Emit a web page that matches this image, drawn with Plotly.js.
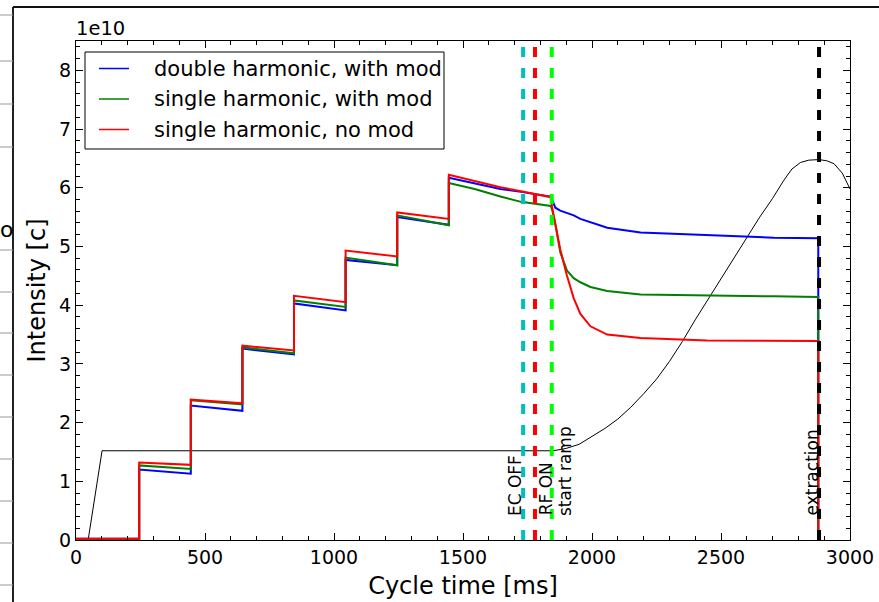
<!DOCTYPE html>
<html>
<head>
<meta charset="utf-8">
<script src="https://cdn.plot.ly/plotly-3.0.1.min.js"></script>
<style>html,body{margin:0;padding:0;background:#fff;}#chart{width:879px;height:602px;}</style>
</head>
<body>
<div id="chart"></div>
<script>
// ---- data (intensity in units of 1e10) ----
const seriesNames = ["double harmonic, with mod", "single harmonic, with mod", "single harmonic, no mod"];
const seriesColors = ["#0000ff", "#008000", "#ff0000"];
const cycleTime = [0, 245, 245, 445, 445, 645, 645, 845, 845, 1045, 1045, 1245, 1245, 1445, 1445,
  1545, 1645, 1725, 1840, 1846, 1852, 1858, 1877, 1903, 1929, 1955, 1994, 2059, 2188, 2446, 2705, 2877, 2877];
const blueHarm2Mod = [0.02, 0.02, 1.20, 1.13, 2.29, 2.20, 3.26, 3.16, 4.03, 3.91, 4.77, 4.68, 5.50, 5.37, 6.17,
  6.08, 5.98, 5.93, 5.85, 5.79, 5.73, 5.66, 5.61, 5.57, 5.53, 5.47, 5.41, 5.32, 5.24, 5.19, 5.15, 5.14, 0];
const greenHarm1Mod = [0.01, 0.01, 1.27, 1.21, 2.38, 2.31, 3.28, 3.18, 4.08, 3.97, 4.81, 4.68, 5.53, 5.36, 6.08,
  5.98, 5.85, 5.76, 5.69, 5.62, 5.50, 5.38, 4.90, 4.59, 4.46, 4.39, 4.31, 4.24, 4.18, 4.16, 4.15, 4.14, 0];
const redHarm1NoMod = [0.02, 0.02, 1.32, 1.28, 2.39, 2.33, 3.31, 3.23, 4.16, 4.05, 4.93, 4.83, 5.58, 5.47, 6.22,
  6.11, 6.01, 5.94, 5.84, 5.65, 5.52, 5.39, 4.95, 4.50, 4.12, 3.85, 3.64, 3.50, 3.44, 3.40, 3.39, 3.39, 0];
const rampTime = [47, 101, 1850, 1900, 1950, 2000, 2050, 2100, 2150, 2200, 2250, 2300, 2350, 2400, 2450, 2500,
  2550, 2600, 2650, 2700, 2744, 2775, 2808, 2840, 2879, 2910, 2938, 2970, 3000];
const rampValue = [0, 1.52, 1.52, 1.56, 1.63, 1.76, 1.90, 2.06, 2.26, 2.49, 2.74, 3.04, 3.38, 3.75, 4.10, 4.46,
  4.80, 5.15, 5.50, 5.82, 6.13, 6.32, 6.43, 6.47, 6.48, 6.46, 6.41, 6.25, 5.98];
const eventTimes = [1733, 1779, 1844, 2880];
const eventColors = ["#00bfbf", "#ff0000", "#00ff00", "#000000"];
const eventLabels = ["EC OFF", "RF ON", "start ramp", "extraction"];
const eventLabelTimes = [1701, 1822, 1893, 2852];
const eventLabelY = 0.38;
const xTickVals = [0, 500, 1000, 1500, 2000, 2500, 3000];
const yTickVals = [0, 1, 2, 3, 4, 5, 6, 7, 8];

// ---- geometry helpers (pixel -> paper) ----
const L = 76, R = 850, T = 41, B = 540;
const px = v => (v - L) / (R - L);
const py = v => (B - v) / (B - T);

const font = "DejaVu Sans, sans-serif";
const traces = [];
traces.push({x: rampTime, y: rampValue, mode: "lines", line: {color: "#000", width: 1}, showlegend: false, hoverinfo: "skip"});
const seriesData = [blueHarm2Mod, greenHarm1Mod, redHarm1NoMod];
seriesData.forEach((vals, i) => {
  traces.push({x: cycleTime, y: vals, mode: "lines", name: seriesNames[i], showlegend: false,
    line: {color: seriesColors[i], width: 2}});
});

const shapes = [];
eventTimes.forEach((t, i) => {
  shapes.push({type: "line", xref: "x", yref: "paper", x0: t, x1: t, y0: 0, y1: 1,
    line: {color: eventColors[i], width: 4, dash: "10px,11px"}, layer: "above"});
});
// background window fragments on the left/top
shapes.push({type: "line", xref: "paper", yref: "paper", x0: px(13), x1: px(13), y0: py(7), y1: py(602), line: {color: "#222", width: 2}});
shapes.push({type: "line", xref: "paper", yref: "paper", x0: px(13), x1: px(879), y0: py(7), y1: py(7), line: {color: "#111", width: 2}});
[15, 61, 104, 147, 250, 292, 333, 375, 417, 459, 501, 543, 585].forEach(v => {
  shapes.push({type: "line", xref: "paper", yref: "paper", x0: px(0), x1: px(13), y0: py(v), y1: py(v), line: {color: "#999", width: 1}});
});

const annotations = [];
// legend box (built from series names/colours)
shapes.push({type: "rect", xref: "paper", yref: "paper", x0: px(85), x1: px(444), y0: py(52), y1: py(149),
  line: {color: "#000", width: 1}, fillcolor: "#fff", layer: "above"});
const legendRowY = [68.5, 99, 129.5];
seriesNames.forEach((nm, i) => {
  shapes.push({type: "line", xref: "paper", yref: "paper", x0: px(99), x1: px(129), y0: py(legendRowY[i]), y1: py(legendRowY[i]),
    line: {color: seriesColors[i], width: 1.5}, layer: "above"});
  annotations.push({x: px(152), y: py(legendRowY[i]), xref: "paper", yref: "paper", text: nm, showarrow: false,
    xanchor: "left", yanchor: "middle", font: {family: font, size: 21, color: "#000"}});
});
eventLabels.forEach((lab, i) => {
  annotations.push({x: eventLabelTimes[i], y: eventLabelY, xref: "x", yref: "y", text: lab, showarrow: false,
    textangle: -90, xanchor: "center", yanchor: "bottom", font: {family: font, size: 17, color: "#000"}});
});
annotations.push({x: 0, y: py(29), xref: "paper", yref: "paper", text: "1e10", showarrow: false,
  xanchor: "left", yanchor: "middle", xshift: -2, font: {family: font, size: 19.5, color: "#000"}});
annotations.push({x: px(6), y: py(229), xref: "paper", yref: "paper", text: "o", showarrow: false,
  xanchor: "center", yanchor: "middle", font: {family: font, size: 22, color: "#000"}});

const axisCommon = {showgrid: false, zeroline: false, showline: true, linecolor: "#000", linewidth: 1,
  ticks: "inside", ticklen: 7, tickwidth: 1, tickcolor: "#000", mirror: "allticks",
  tickfont: {family: font, size: 19, color: "#000"}};

const layout = {
  width: 879, height: 602,
  margin: {l: L, r: 879 - R, t: T, b: 602 - B, pad: 0},
  paper_bgcolor: "#fff", plot_bgcolor: "#fff",
  font: {family: font, color: "#000"},
  xaxis: Object.assign({}, axisCommon, {range: [0, 3000], tickvals: xTickVals,
    minor: {dtick: 100, ticks: "inside", ticklen: 4, tickcolor: "#000", tickwidth: 1, showgrid: false},
    ticklabelstandoff: 0,
    title: {text: "Cycle time [ms]", font: {family: font, size: 24, color: "#000"}, standoff: 10}}),
  yaxis: Object.assign({}, axisCommon, {range: [0, 8.5], tickvals: yTickVals,
    minor: {dtick: 0.2, ticks: "inside", ticklen: 4, tickcolor: "#000", tickwidth: 1, showgrid: false},
    ticklabelstandoff: 0,
    title: {text: "Intensity [c]", font: {family: font, size: 24, color: "#000"}, standoff: 6}}),
  showlegend: false,
  shapes: shapes,
  annotations: annotations
};

Plotly.newPlot("chart", traces, layout, {staticPlot: true, displayModeBar: false});
</script>
</body>
</html>
